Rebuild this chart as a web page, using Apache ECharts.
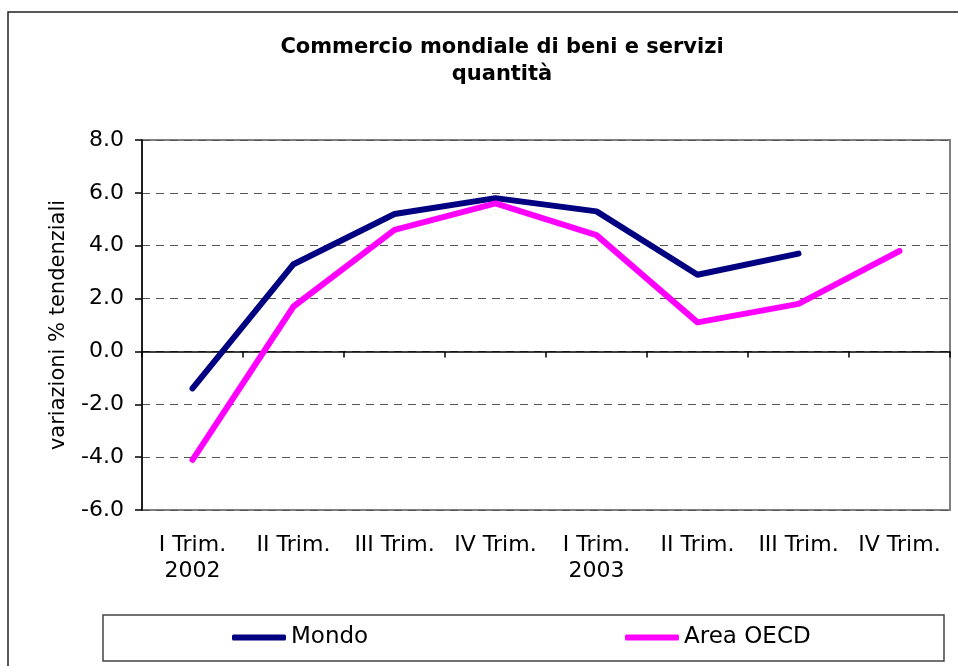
<!DOCTYPE html>
<html>
<head>
<meta charset="utf-8">
<title>Commercio mondiale di beni e servizi</title>
<script src="https://cdn.jsdelivr.net/npm/echarts@6/dist/echarts.min.js"></script>
<style>
  html, body { margin: 0; padding: 0; background: #fff; }
  #chart { width: 958px; height: 666px; }
</style>
</head>
<body>
<div id="chart"></div>
<script>
// dati
const categories = ['I Trim.\n2002', 'II Trim.', 'III Trim.', 'IV Trim.', 'I Trim.\n2003', 'II Trim.', 'III Trim.', 'IV Trim.']
const mondo = [-1.4, 3.3, 5.2, 5.8, 5.3, 2.9, 3.7, null]
const areaOecd = [-4.1, 1.7, 4.6, 5.6, 4.4, 1.1, 1.8, 3.8]
const yTicks = { min: -6, max: 8, interval: 2 }

const fontFamily = '"DejaVu Sans", Verdana, sans-serif'

const chart = echarts.init(document.getElementById('chart'))

const option = {
  backgroundColor: '#fff',
  animation: false,
  title: {
    text: 'Commercio mondiale di beni e servizi\nquantità',
    left: 497,
    textAlign: 'center',
    top: 29,
    textStyle: {
      fontFamily: fontFamily,
      fontSize: 21,
      fontWeight: 'bold',
      color: '#000',
      lineHeight: 27
    }
  },
  // cornice esterna e riquadro della legenda
  graphic: [
    {
      type: 'rect',
      shape: { x: 8, y: 12, width: 1000, height: 700 },
      style: { fill: 'none', stroke: '#222', lineWidth: 1.5 },
      silent: true
    },
    {
      type: 'rect',
      shape: { x: 103, y: 615, width: 841, height: 46 },
      style: { fill: 'none', stroke: '#444', lineWidth: 1.5 },
      silent: true
    }
  ],
  legend: [
    {
      data: ['Mondo'],
      left: 232,
      top: 626,
      padding: 0,
      icon: 'roundRect',
      itemWidth: 54,
      itemHeight: 6,
      textStyle: { fontFamily: fontFamily, fontSize: 23, color: '#000' }
    },
    {
      data: ['Area OECD'],
      left: 625,
      top: 626,
      padding: 0,
      icon: 'roundRect',
      itemWidth: 54,
      itemHeight: 6,
      textStyle: { fontFamily: fontFamily, fontSize: 23, color: '#000' }
    }
  ],
  grid: {
    left: 142,
    top: 140,
    right: 8,
    bottom: 156,
    show: true,
    borderColor: '#808080',
    borderWidth: 2
  },
  xAxis: [
    {
      // etichette in basso
      type: 'category',
      data: categories,
      boundaryGap: true,
      axisLine: { onZero: false, show: false },
      axisTick: { show: false },
      axisLabel: {
        fontFamily: fontFamily,
        fontSize: 22,
        color: '#000',
        margin: 22,
        lineHeight: 26,
        interval: 0
      }
    },
    {
      // asse dello zero con tacche
      type: 'category',
      data: categories,
      position: 'bottom',
      boundaryGap: true,
      axisLine: { onZero: true, lineStyle: { color: '#000', width: 1.5 } },
      axisTick: { show: true, inside: false, length: 6, lineStyle: { color: '#000', width: 1.5 } },
      axisLabel: { show: false }
    }
  ],
  yAxis: {
    type: 'value',
    min: yTicks.min,
    max: yTicks.max,
    interval: yTicks.interval,
    name: 'variazioni % tendenziali',
    nameLocation: 'middle',
    nameGap: 73,
    nameTextStyle: { fontFamily: fontFamily, fontSize: 21, color: '#000' },
    axisLine: { show: true, lineStyle: { color: '#000', width: 1.5 } },
    axisTick: { show: true, length: 7, lineStyle: { color: '#000', width: 1.5 } },
    axisLabel: {
      fontFamily: fontFamily,
      fontSize: 22,
      color: '#000',
      margin: 18,
      formatter: v => v.toFixed(1)
    },
    splitLine: {
      show: true,
      lineStyle: { color: '#555', type: [8, 6], width: 1.2 }
    }
  },
  series: [
    {
      name: 'Mondo',
      type: 'line',
      data: mondo,
      symbol: 'none',
      connectNulls: false,
      lineStyle: { color: '#000080', width: 6, cap: 'round', join: 'round' },
      itemStyle: { color: '#000080' }
    },
    {
      name: 'Area OECD',
      type: 'line',
      data: areaOecd,
      symbol: 'none',
      lineStyle: { color: '#ff00ff', width: 6, cap: 'round', join: 'round' },
      itemStyle: { color: '#ff00ff' }
    }
  ]
}

chart.setOption(option)
</script>
</body>
</html>
